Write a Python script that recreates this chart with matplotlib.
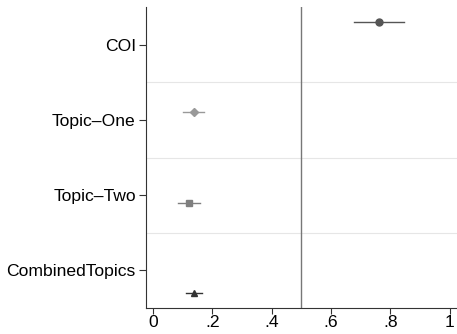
import matplotlib
matplotlib.use('Agg')
import matplotlib.pyplot as plt

plt.rcParams['font.family'] = ['Liberation Sans', 'DejaVu Sans']

# Data
labels   = ['COI', 'Topic\u2013One', 'Topic\u2013Two', 'CombinedTopics']
estimate = [0.761, 0.138, 0.121, 0.137]
ci_low   = [0.677, 0.102, 0.084, 0.110]
ci_high  = [0.845, 0.173, 0.159, 0.166]
offsets  = [-0.3, -0.1, 0.1, 0.3]
markers  = ['o', 'D', 's', '^']
colors   = ['#555555', '#999999', '#7f7f7f', '#333333']
msizes   = [5, 4.5, 4.5, 5]

fig = plt.figure(figsize=(4.57, 3.34), dpi=100)
ax = fig.add_axes([0.3184, 0.0778, 0.6816, 0.901])

for i in range(len(labels)):
    y = i + 1 + offsets[i]
    ax.plot([ci_low[i], ci_high[i]], [y, y], color=colors[i], lw=1.0, zorder=3)
    ax.plot(estimate[i], y, marker=markers[i], color=colors[i],
            markersize=msizes[i], linestyle='none', zorder=4)

# Group separators
for s in [1.5, 2.5, 3.5]:
    ax.axhline(s, color='#e6e6e6', lw=0.8, zorder=1)

# Reference line
ax.axvline(0.5, color='#777777', lw=1.0, zorder=2)

ax.set_xlim(-0.025, 1.024)
ax.set_ylim(4.5, 0.5)
ax.set_yticks([1, 2, 3, 4])
ax.set_yticklabels(labels, fontsize=12.6)
ax.set_xticks([0, 0.2, 0.4, 0.6, 0.8, 1.0])
ax.set_xticklabels(['0', '.2', '.4', '.6', '.8', '1'], fontsize=12.6)

ax.spines['top'].set_visible(False)
ax.spines['right'].set_visible(False)
ax.spines['left'].set_color('#333333')
ax.spines['bottom'].set_color('#333333')
ax.tick_params(axis='both', direction='out', length=5, width=0.8,
               colors='#333333', labelcolor='black', pad=2)
ax.tick_params(axis='x', length=4, pad=1)

fig.savefig('out.png', dpi=100, facecolor='white')
